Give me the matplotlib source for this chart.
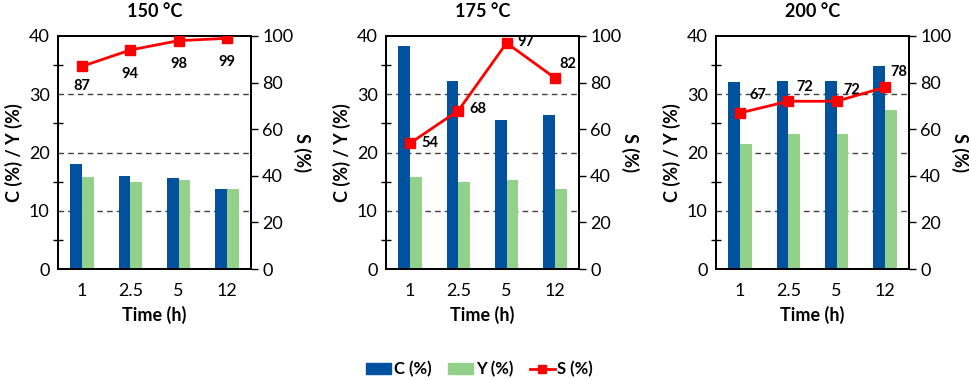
import matplotlib
matplotlib.use("Agg")
import matplotlib.pyplot as plt
import numpy as np
from matplotlib.ticker import MultipleLocator
from matplotlib.patches import Patch
from matplotlib.lines import Line2D

plt.rcParams['font.family'] = ['Lato', 'DejaVu Sans']

times = ["1", "2.5", "5", "12"]
temps = ["150 °C", "175 °C", "200 °C"]
conv = [
    [18.1, 16.0, 15.7, 13.7],
    [38.2, 32.2, 25.6, 26.4],
    [32.1, 32.3, 32.2, 34.9],
]
yield_ = [
    [15.8, 14.9, 15.3, 13.7],
    [15.8, 14.9, 15.3, 13.7],
    [21.5, 23.2, 23.2, 27.35],
]
sel = [
    [87, 94, 98, 99],
    [54, 68, 97, 82],
    [67, 72, 72, 78],
]
label_offsets = [
    [(0, -14), (0, -17), (0, -17), (0, -17)],
    [(14, 0), (14, 1), (14, 1), (9, 10)],
    [(13, 13), (12, 10), (11, 8), (10, 11)],
]

blue = "#00519E"
green = "#93D18A"
red = "#FF0000"

fig = plt.figure(figsize=(9.69, 3.79), dpi=100)
lefts = [58, 386, 716]
W, H = 969, 379
x = np.arange(len(times))
bw = 0.245

for i in range(3):
    ax = fig.add_axes([lefts[i] / W, 1 - 269 / H, 193 / W, 233 / H])
    ax.bar(x - bw / 2, conv[i], bw, color=blue, zorder=3)
    ax.bar(x + bw / 2, yield_[i], bw, color=green, zorder=3)
    ax.set_xlim(-0.5, 3.5)
    ax.set_ylim(0, 40)
    ax.yaxis.set_major_locator(MultipleLocator(10))
    ax.yaxis.set_minor_locator(MultipleLocator(5))
    for yv in (10, 20, 30):
        ax.axhline(yv, color="#404040", lw=1, ls=(0, (4, 3)), zorder=1)
    ax.set_xticks(x)
    ax.set_xticklabels(times)
    ax.tick_params(axis="x", length=0, labelsize=13, pad=10)
    ax.tick_params(axis="y", which="both", direction="inout", length=7, width=1, labelsize=13, pad=3)
    ax.tick_params(axis="y", which="major", length=0, pad=6)
    for s in ax.spines.values():
        s.set_linewidth(1.4)
        s.set_color("black")
    ax.set_xlabel("Time (h)", fontsize=13, fontweight="bold", labelpad=5)
    ax.set_ylabel("C (%) / Y (%)", fontsize=13, fontweight="bold", labelpad=4)
    ax.set_title(temps[i], fontsize=13, fontweight="bold", pad=14)

    ax2 = ax.twinx()
    ax2.plot(x, sel[i], color=red, lw=2, marker="s", ms=7, zorder=5)
    ax2.set_ylim(0, 100)
    ax2.yaxis.set_major_locator(MultipleLocator(20))
    ax2.tick_params(axis="y", direction="out", length=5, width=1, labelsize=13, pad=3)
    for s in ax2.spines.values():
        s.set_linewidth(1.4)
    ax2.set_ylabel("S (%)", fontsize=13, fontweight="bold", rotation=-90, labelpad=13)
    for j, v in enumerate(sel[i]):
        ax2.annotate(str(v), (x[j], v), xytext=label_offsets[i][j], textcoords="offset points",
                     ha="center", va="center", fontsize=10.5, fontweight="bold")

handles = [Patch(color=blue, label="C (%)"), Patch(color=green, label="Y (%)"),
           Line2D([0], [0], color=red, lw=2, marker="s", ms=6, label="S (%)")]
fig.legend(handles=handles, loc="center", bbox_to_anchor=(0.495, 1 - 369 / H), ncol=3,
           frameon=False, prop={"size": 12, "weight": "bold"}, handlelength=1.5, handleheight=0.6,
           columnspacing=1.0, handletextpad=0.15)

fig.savefig("out.png", dpi=100)
